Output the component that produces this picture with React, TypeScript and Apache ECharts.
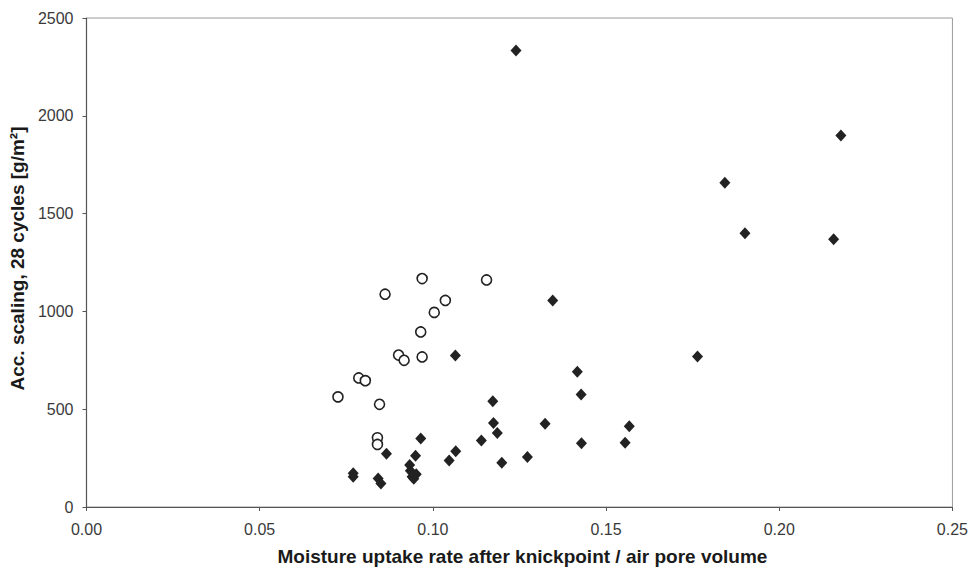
import React, { useEffect, useRef } from "react";
import * as echarts from "echarts";

// Open circles
const circleX = [0.0969, 0.1155, 0.0862, 0.1036, 0.1004, 0.0965, 0.0901, 0.0917, 0.0969, 0.0786, 0.0805, 0.0726, 0.0846, 0.084, 0.084];
const circleY = [1168, 1161, 1088, 1056, 995, 895, 777, 750, 767, 660, 646, 563, 525, 354, 320];

// Filled diamonds
const diamondX = [
  0.124, 0.2178, 0.1843, 0.1901, 0.2157, 0.1346, 0.1065, 0.1764, 0.1417, 0.1428, 0.1173, 0.1175,
  0.1324, 0.1567, 0.1186, 0.0965, 0.114, 0.1429, 0.1555, 0.1066, 0.0866, 0.095, 0.1273, 0.1047,
  0.1199, 0.0933, 0.0935, 0.0952, 0.094, 0.0945, 0.077, 0.077, 0.0842, 0.085,
];
const diamondY = [
  2334, 1899, 1658, 1400, 1369, 1056, 774, 770, 692, 575, 541, 430,
  425, 413, 378, 350, 340, 326, 328, 285, 272, 262, 255, 238,
  226, 215, 185, 168, 155, 145, 172, 155, 146, 120,
];

const xTicks = [0, 0.05, 0.1, 0.15, 0.2, 0.25];
const yTicks = [0, 500, 1000, 1500, 2000, 2500];

const xTitle = "Moisture uptake rate after knickpoint / air pore volume";
const yTitle = "Acc. scaling, 28 cycles [g/m²]";

export default function App() {
  const ref = useRef<HTMLDivElement>(null);
  useEffect(() => {
    if (!ref.current) return;
    const chart = echarts.init(ref.current, undefined, { renderer: "svg" });
    const font = "'Liberation Sans', Arial, Helvetica, sans-serif";
    chart.setOption({
      animation: false,
      backgroundColor: "#ffffff",
      textStyle: { fontFamily: font },
      grid: {
        left: 86,
        right: 17,
        top: 18,
        bottom: 63,
        show: true,
        borderColor: "#9a9a9a",
        borderWidth: 1,
        backgroundColor: "transparent",
      },
      xAxis: {
        type: "value",
        min: xTicks[0],
        max: xTicks[xTicks.length - 1],
        interval: 0.05,
        name: xTitle,
        nameLocation: "middle",
        nameGap: 40,
        nameTextStyle: { fontFamily: font, fontSize: 19, fontWeight: "bold", color: "#1a1a1a", padding: [0, 0, 0, 6] },
        axisLine: { show: true, lineStyle: { color: "#555", width: 1.2 } },
        axisTick: { show: true, inside: false, length: 4, lineStyle: { color: "#555" } },
        axisLabel: {
          margin: 14,
          fontSize: 16,
          color: "#3a3a3a",
          fontFamily: font,
          formatter: (v: number) => v.toFixed(2),
        },
        splitLine: { show: false },
      },
      yAxis: {
        type: "value",
        min: yTicks[0],
        max: yTicks[yTicks.length - 1],
        interval: 500,
        name: yTitle,
        nameLocation: "middle",
        nameGap: 56,
        nameRotate: 90,
        nameTextStyle: { fontFamily: font, fontSize: 19, fontWeight: "bold", color: "#1a1a1a", padding: [0, 0, 0, 8] },
        axisLine: { show: true, lineStyle: { color: "#555", width: 1.2 } },
        axisTick: { show: true, inside: false, length: 4, lineStyle: { color: "#555" } },
        axisLabel: {
          margin: 13,
          fontSize: 16,
          color: "#3a3a3a",
          fontFamily: font,
          formatter: (v: number) => String(v),
        },
        splitLine: { show: false },
      },
      series: [
        {
          name: "open",
          type: "scatter",
          symbol: "circle",
          symbolSize: 10,
          itemStyle: { color: "#ffffff", borderColor: "#222", borderWidth: 1.6, opacity: 1 },
          data: circleX.map((x, i) => [x, circleY[i]]),
          z: 3,
        },
        {
          name: "filled",
          type: "scatter",
          symbol: "diamond",
          symbolSize: [11, 12],
          itemStyle: { color: "#222", opacity: 1 },
          data: diamondX.map((x, i) => [x, diamondY[i]]),
          z: 4,
        },
      ],
    });
    return () => chart.dispose();
  }, []);
  return <div ref={ref} style={{ width: 971, height: 571, position: "absolute", left: 0, top: 0 }} />;
}
